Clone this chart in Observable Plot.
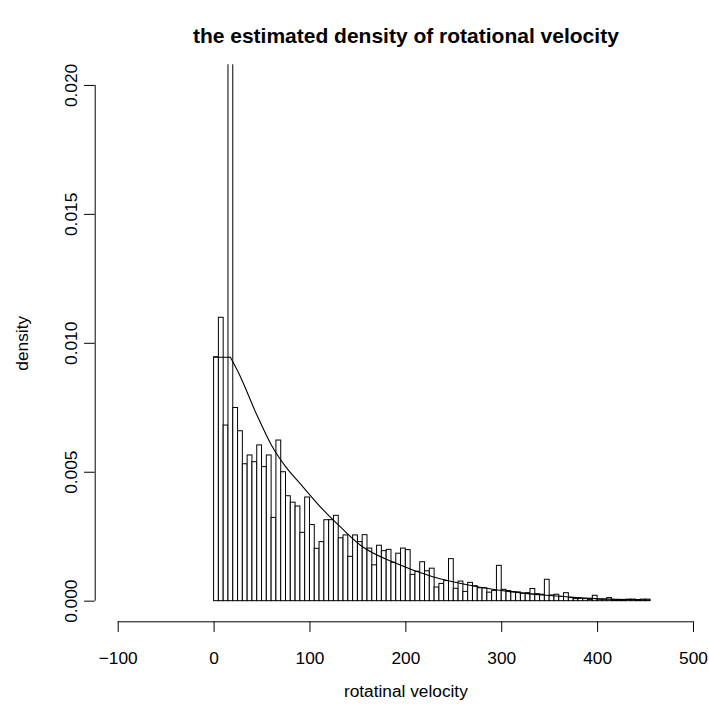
<!DOCTYPE html>
<html><head><meta charset="utf-8">
<script src="https://cdn.jsdelivr.net/npm/d3@7"></script>
<script src="https://cdn.jsdelivr.net/npm/@observablehq/plot@0.6"></script>
<style>body{margin:0;background:#fff}</style>
</head><body><div id="chart"></div>
<script>
const binWidth = 5;
const density = [
  0.00946, 0.01099, 0.00681, 0.02340, 0.00749, 0.00659, 0.00531, 0.00565, 0.00539, 0.00604,
  0.00520, 0.00565, 0.00323, 0.00623, 0.00500, 0.00407, 0.00382, 0.00367, 0.00265, 0.00402,
  0.00295, 0.00203, 0.00229, 0.00314, 0.00314, 0.00331, 0.00244, 0.00255, 0.00172, 0.00255,
  0.00229, 0.00256, 0.00204, 0.00139, 0.00215, 0.00194, 0.00199, 0.00149, 0.00184, 0.00204,
  0.00198, 0.00102, 0.00114, 0.00151, 0.00116, 0.00126, 0.00053, 0.00067, 0.00078, 0.00163,
  0.00048, 0.00076, 0.00036, 0.00071, 0.00058, 0.00050, 0.00050, 0.00033, 0.00040, 0.00137,
  0.00044, 0.00039, 0.00035, 0.00034, 0.00029, 0.00031, 0.00047, 0.00027, 0.00025, 0.00083,
  0.00022, 0.00025, 0.00017, 0.00031, 0.00012, 0.00008, 0.00009, 0.00008, 0.00005, 0.00021,
  0.00006, 0.00006, 0.00012, 0.00004, 0.00004, 0.00004, 0.00006, 0.00006, 0.00004, 0.00006,
  0.00006
];
const flatX = [0, 17];
const flatY = [0.00946, 0.00946];
const decayX = [17, 26, 44, 60, 75, 90, 111, 132, 153, 189, 228, 268, 309, 346, 387, 420, 455];
const decayY = [0.00946, 0.00882, 0.00727, 0.00604, 0.0052, 0.00455, 0.00365, 0.00287, 0.00216, 0.00148, 0.00095, 0.00061, 0.00037, 0.00023, 0.00012, 0.00007, 0.00004];
const xTicks = [-100, 0, 100, 200, 300, 400, 500];
const yTicks = [0, 0.005, 0.010, 0.015, 0.020];
const yTickLabels = ["0.000", "0.005", "0.010", "0.015", "0.020"];
const title = "the estimated density of rotational velocity";
const xLabel = "rotatinal velocity";
const yLabel = "density";

const bins = density.map((d, i) => ({x1: i * binWidth, x2: (i + 1) * binWidth, y: d}));
const flat = flatX.map((x, i) => ({x, y: flatY[i]}));
const decay = decayX.map((x, i) => ({x, y: decayY[i]}));

const W = 709, H = 706;
const mL = 94.7, mT = 64.3, mB = 84.7, mR = 0;
const pxPerUnit = 0.9588;
const xMin = -124, xMax = xMin + (W - mL - mR) / pxPerUnit;
const fs = 17.3;

const chart = Plot.plot({
  width: W, height: H,
  marginLeft: mL, marginRight: mR, marginTop: mT, marginBottom: mB,
  style: {fontFamily: "'Liberation Sans', Arial, Helvetica, sans-serif", fontSize: fs + "px", background: "#fff", color: "#000", overflow: "visible"},
  x: {domain: [xMin, xMax], label: null},
  y: {domain: [-0.0008, 0.0208], label: null},
  marks: [
    Plot.rectY(bins, {x1: "x1", x2: "x2", y1: 0, y2: "y", fill: "white", stroke: "black", strokeWidth: 1, clip: true}),
    Plot.line(flat, {x: "x", y: "y", stroke: "black", strokeWidth: 1.1}),
    Plot.line(decay, {x: "x", y: "y", stroke: "black", strokeWidth: 1.1, curve: "monotone-x"}),
    Plot.ruleX([xMin], {y1: 0, y2: 0.02, stroke: "black", strokeWidth: 1}),
    Plot.ruleY([-0.0008], {x1: -100, x2: 500, stroke: "black", strokeWidth: 1}),
    Plot.axisX({ticks: xTicks, tickSize: 10.6, tickPadding: 19, label: null, fontSize: fs, tickFormat: d => d < 0 ? "\u2212" + Math.abs(d) : String(d)}),
    Plot.axisY({ticks: yTicks, tickSize: 10.6, tickFormat: () => "", label: null}),
    Plot.text(yTicks, {y: d => d, text: (d, i) => yTickLabels[i], frameAnchor: "left", dx: -18.7, rotate: -90, lineAnchor: "bottom", textAnchor: "middle", fontSize: fs}),
    Plot.text([title], {x: () => 200, text: d => d, frameAnchor: "top", dy: -22, lineAnchor: "bottom", fontWeight: "bold", fontSize: 21}),
    Plot.text([xLabel], {x: () => 200, text: d => d, frameAnchor: "bottom", dy: 74.7, lineAnchor: "bottom", fontSize: fs}),
    Plot.text([yLabel], {y: () => 0.01, text: d => d, frameAnchor: "left", dx: -67.7, rotate: -90, lineAnchor: "bottom", textAnchor: "middle", fontSize: fs})
  ]
});
document.getElementById("chart").appendChild(chart);
</script>
</body></html>
